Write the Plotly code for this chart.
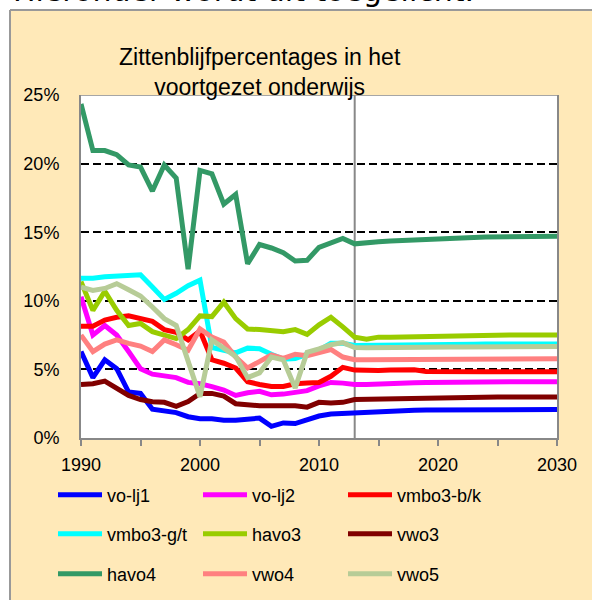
import plotly.graph_objects as go

years = list(range(1990, 2031))

vo_lj1 = [6.3, 4.4, 5.7, 5.05, 3.35, 3.25, 2.1, 1.95, 1.85, 1.55, 1.4,
          1.4, 1.3, 1.3, 1.35, 1.45, 0.85, 1.1, 1.05, 1.3, 1.6, 1.75, 1.8, 1.85,
          1.9, 1.95, 1.98, 2.0, 2.02, 2.04, 2.05, 2.06, 2.07, 2.08, 2.08, 2.08, 2.08, 2.08, 2.08, 2.07, 2.07]
vo_lj2 = [10.3, 7.5, 8.2, 7.5, 6.3, 5.05, 4.65, 4.5, 4.4, 4.05, 3.95,
          3.75, 3.5, 3.1, 3.3, 3.4, 3.15, 3.2, 3.35, 3.45, 3.8, 4.05, 4.0, 3.9,
          3.9, 3.95, 3.97, 4.0, 4.02, 4.05, 4.07, 4.08, 4.1, 4.1, 4.1, 4.1, 4.1, 4.1, 4.1, 4.1, 4.1]
vmbo3_bk = [8.15, 8.15, 8.6, 8.8, 8.9, 8.7, 8.5, 7.9, 7.7, 7.15, 7.8,
            5.7, 5.45, 5.1, 4.1, 3.9, 3.75, 3.75, 3.95, 4.0, 4.05, 4.5, 5.15, 4.95,
            4.9, 4.92, 4.95, 4.97, 4.97, 4.85, 4.83, 4.83, 4.83, 4.83, 4.83, 4.83, 4.83, 4.83, 4.83, 4.83, 4.83]
vmbo3_gt = [11.65, 11.65, 11.75, 11.8, 11.85, 11.9, 11.0, 10.1, 10.55, 11.1, 11.5,
            6.6, 6.4, 6.2, 6.55, 6.5, 6.1, 5.75, 5.8, 6.1, 6.4, 6.9, 6.9, 6.75,
            6.75, 6.78, 6.8, 6.8, 6.82, 6.82, 6.83, 6.83, 6.84, 6.84, 6.85, 6.85, 6.85, 6.85, 6.85, 6.85, 6.85]
havo3 = [11.4, 9.3, 10.7, 9.3, 8.2, 8.35, 7.75, 7.5, 7.25, 7.9, 8.9,
         8.85, 9.9, 8.7, 7.95, 7.9, 7.85, 7.75, 7.9, 7.55, 8.25, 8.8, 8.1, 7.35,
         7.2, 7.35, 7.35, 7.37, 7.4, 7.42, 7.45, 7.45, 7.47, 7.48, 7.5, 7.5, 7.5, 7.5, 7.5, 7.5, 7.5]
vwo3 = [3.9, 3.95, 4.15, 3.6, 3.1, 2.8, 2.65, 2.6, 2.3, 2.65, 3.25,
        3.25, 3.05, 2.5, 2.4, 2.35, 2.35, 2.35, 2.35, 2.25, 2.6, 2.55, 2.6, 2.8,
        2.82, 2.85, 2.87, 2.9, 2.92, 2.93, 2.95, 2.96, 2.97, 2.98, 2.98, 2.98, 2.98, 2.98, 2.98, 2.98, 2.98]
havo4 = [24.35, 20.95, 20.95, 20.65, 19.9, 19.75, 18.0, 19.9, 18.95, 12.3, 19.5,
         19.25, 17.05, 17.75, 12.7, 14.1, 13.85, 13.5, 12.9, 12.95, 13.9, 14.25, 14.55, 14.15,
         14.25, 14.3, 14.35, 14.4, 14.45, 14.5, 14.55, 14.57, 14.6, 14.62, 14.65, 14.67, 14.7, 14.72, 14.72, 14.7, 14.7]
vwo4 = [7.5, 6.3, 6.85, 7.15, 6.9, 6.7, 6.3, 7.15, 6.8, 6.4, 7.95,
        7.35, 7.0, 5.9, 5.1, 5.55, 6.05, 5.8, 6.1, 6.0, 6.25, 6.45, 5.9, 5.7,
        5.7, 5.7, 5.72, 5.72, 5.73, 5.74, 5.75, 5.75, 5.76, 5.76, 5.77, 5.77, 5.78, 5.78, 5.78, 5.78, 5.78]
vwo5 = [11.0, 10.75, 10.9, 11.25, 10.8, 10.35, 9.55, 8.7, 8.2, 5.6, 3.0,
        7.15, 6.55, 5.95, 4.4, 4.75, 5.9, 5.7, 3.65, 6.25, 6.5, 6.8, 6.95, 6.6,
        6.58, 6.6, 6.6, 6.61, 6.62, 6.62, 6.63, 6.63, 6.64, 6.64, 6.65, 6.65, 6.65, 6.66, 6.66, 6.66, 6.66]

series = [
    ("vo-lj1", vo_lj1, "#0000FF", "legend"),
    ("vo-lj2", vo_lj2, "#FF00FF", "legend"),
    ("vmbo3-b/k", vmbo3_bk, "#FF0000", "legend"),
    ("vmbo3-g/t", vmbo3_gt, "#00FFFF", "legend2"),
    ("havo3", havo3, "#99CC00", "legend2"),
    ("vwo3", vwo3, "#800000", "legend2"),
    ("havo4", havo4, "#339966", "legend3"),
    ("vwo4", vwo4, "#FF8080", "legend3"),
    ("vwo5", vwo5, "#B7CC97", "legend3"),
]

title_lines = ["Zittenblijfpercentages in het", "voortgezet onderwijs"]
y_ticks = [0, 5, 10, 15, 20, 25]
x_ticks = [1990, 2000, 2010, 2020, 2030]
split_year = 2013

# body margin is removed by post_script, so figure coords == page coords
W, H = 592, 600
L, T, PW, PH = 81, 95, 476, 343
R = W - L - PW
B = H - T - PH

def px(xpage):
    return (xpage - L) / PW

def py(ypage):
    return (T + PH - ypage) / PH

FONT = "Liberation Sans, Arial, sans-serif"
CREAM = "#FFE9B8"

fig = go.Figure()
for name, vals, col, lg in series:
    fig.add_trace(go.Scatter(x=years, y=vals, mode="lines", name=name,
                             line=dict(color=col, width=5), legend=lg))

leg_common = dict(orientation="h", xanchor="left", yanchor="middle",
                  entrywidth=86, entrywidthmode="pixels",
                  bgcolor="rgba(0,0,0,0)", font=dict(family=FONT, size=18, color="black"),
                  itemwidth=44)
fig.update_layout(
    legend=dict(x=px(53), y=py(495), **leg_common),
    legend2=dict(x=px(53), y=py(534), **leg_common),
    legend3=dict(x=px(53), y=py(574), **leg_common),
)

fig.update_layout(
    width=W, height=H,
    margin=dict(l=L, r=R, t=T, b=B, autoexpand=False),
    paper_bgcolor=CREAM, plot_bgcolor="white",
    font=dict(family=FONT, size=18, color="black"),
    showlegend=True,
    xaxis=dict(range=[1990, 2030], tickvals=x_ticks, ticks="outside", ticklen=6,
               tickcolor="#888888", tickwidth=2, showline=True, linecolor="#888888",
               linewidth=2, showgrid=False, zeroline=False, ticklabelstandoff=3,
               minor=dict(dtick=5, ticks="outside", ticklen=6, tickcolor="#888888",
                          tickwidth=2, showgrid=False),
               tickfont=dict(family=FONT, size=18)),
    yaxis=dict(range=[0, 25], tickvals=y_ticks, ticktext=[f"{v}%" for v in y_ticks],
               ticks="", showline=True, linecolor="#888888", linewidth=2, mirror=True,
               showgrid=True, gridcolor="black", gridwidth=2, griddash="8px,4px",
               zeroline=False, ticklabelstandoff=16,
               tickfont=dict(family=FONT, size=18)),
)

# frame (white outside strips + gray border)
fig.add_shape(type="rect", xref="paper", yref="paper", x0=px(-50), x1=px(10), y0=py(700), y1=py(-50),
              fillcolor="white", line=dict(width=0), layer="below")
fig.add_shape(type="rect", xref="paper", yref="paper", x0=px(-50), x1=px(700), y0=py(10), y1=py(-50),
              fillcolor="white", line=dict(width=0), layer="below")
fig.add_shape(type="line", xref="paper", yref="paper", x0=px(10), x1=px(10), y0=py(700), y1=py(10),
              line=dict(color="#999999", width=2))
fig.add_shape(type="line", xref="paper", yref="paper", x0=px(10), x1=px(700), y0=py(10), y1=py(10),
              line=dict(color="#999999", width=2))

# top border and 2013 marker
fig.add_shape(type="line", xref="x", yref="y", x0=1990, x1=2030, y0=25, y1=25,
              line=dict(color="#A6A6A6", width=2), layer="between")
fig.add_shape(type="line", xref="x", yref="y", x0=split_year, x1=split_year, y0=0, y1=25,
              line=dict(color="#888888", width=2), layer="between")

fig.add_annotation(xref="paper", yref="paper", x=px(260), y=py(72), xanchor="center", yanchor="middle",
                   text="<br>".join(title_lines), showarrow=False,
                   font=dict(family=FONT, size=23, color="black"))
fig.add_annotation(xref="paper", yref="paper", x=px(11), y=py(-10), xanchor="left", yanchor="middle",
                   text="Hieronder wordt dit toegelicht.", showarrow=False,
                   font=dict(family="DejaVu Sans, Verdana, sans-serif", size=30, color="black"))

fig.write_html("out.html", config={"displayModeBar": False},
               post_script="document.body.style.margin='0';document.body.style.overflow='hidden';")
